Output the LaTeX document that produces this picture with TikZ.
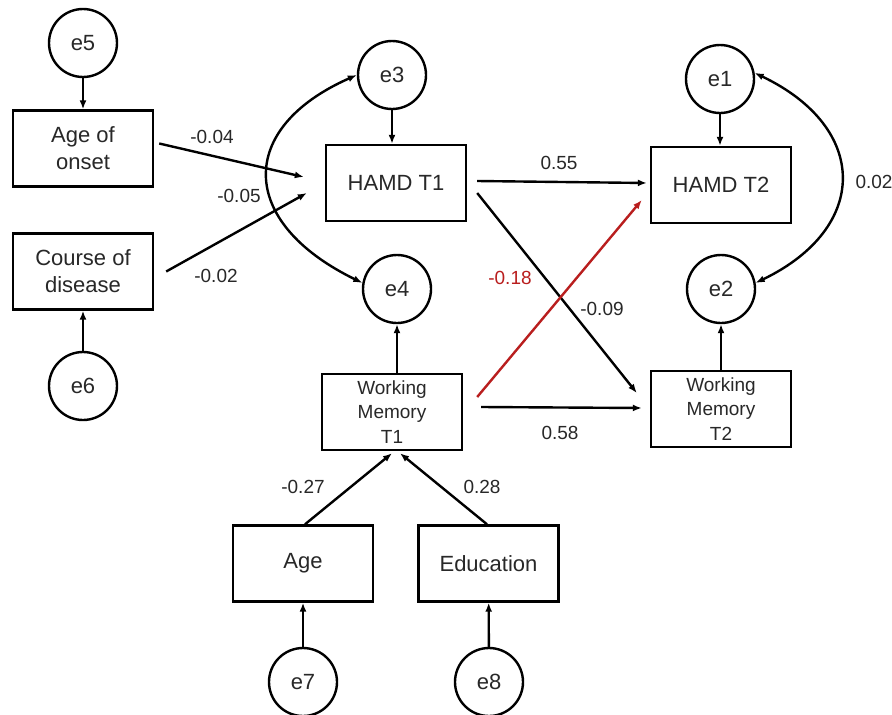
\documentclass[tikz,border=0pt]{standalone}
\usepackage{fontspec}
\setmainfont{Liberation Sans}
\usetikzlibrary{arrows.meta,calc}
\definecolor{txt}{RGB}{40,40,40}
\definecolor{redp}{RGB}{185,30,30}
\begin{document}
\begin{tikzpicture}[x=1pt,y=-1pt,
 box/.style={draw,line width=2.4pt,minimum width=140pt,minimum height=76pt,inner sep=0pt,align=center,text=txt,font=\fontsize{22}{27}\selectfont},
 wmbox/.style={box,font=\fontsize{19}{24.5}\selectfont},
 err/.style={draw,circle,line width=2.4pt,minimum size=68pt,inner sep=0pt,text=txt,font=\fontsize{22}{26}\selectfont},
 arr/.style={line width=2.4pt,-{Latex[length=9pt,width=7pt]}},
 dbl/.style={line width=2.4pt,{Latex[length=9pt,width=7pt]}-{Latex[length=9pt,width=7pt]}},
 lbl/.style={text=txt,font=\fontsize{19}{22}\selectfont,inner sep=0pt},
]
\fill[white] (0,0) rectangle (892,715);
\useasboundingbox (0,0) rectangle (892,715);

% boxes
\node[box] (aoo) at (83,148.5) {Age of\\onset};
\node[box] (cod) at (83,271.5) {Course of\\disease};
\node[box] (hamd1) at (396,183) {HAMD T1};
\node[box] (hamd2) at (721,185) {HAMD T2};
\node[wmbox] (wm1) at (392,412) {Working\\Memory\\T1};
\node[wmbox] (wm2) at (721,409) {Working\\Memory\\T2};
\node[box] (age) at (303,563.5) {Age};
\node[box] (edu) at (488.5,563.5) {Education};

% error circles
\node[err] (e5) at (83,43) {e5};
\node[err] (e6) at (83,386) {e6};
\node[err] (e3) at (392,75) {e3};
\node[err] (e4) at (397,289) {e4};
\node[err] (e1) at (720,79) {e1};
\node[err] (e2) at (721,289) {e2};
\node[err] (e7) at (303,682) {e7};
\node[err] (e8) at (489,682) {e8};

% error arrows
\draw[arr] (e5) -- (aoo);
\draw[arr] (e6) -- (cod);
\draw[arr] (e3) -- (e3 |- hamd1.north);
\draw[arr] (wm1.north -| e4) -- (e4);
\draw[arr] (e1) -- (e1 |- hamd2.north);
\draw[arr] (wm2) -- (e2);
\draw[arr] (e7) -- (age);
\draw[arr] (e8) -- (edu);

% covariances
\draw[dbl] (e3.180) .. controls +(-120,53) and +(-125,-61) .. (e4.170);
\draw[dbl] (e1.10) .. controls +(115,55) and +(114,-55) .. (e2.10);

% paths
\draw[arr] ($(aoo.east)+(5,-5)$) -- ($(hamd1.west)+(-21,-6)$);
\draw[arr] ($(cod.east)+(12,0)$) -- ($(hamd1.west)+(-18,10)$);
\draw[arr] ($(hamd1.east)+(10,-2)$) -- ($(hamd2.west)+(-3,-2)$);
\draw[arr] ($(hamd1.east)+(10,10)$) -- ($(wm2.west)+(-13,-16)$);
\draw[arr,redp] ($(wm1.east)+(14,-15)$) -- ($(hamd2.west)+(-8,15)$);
\draw[arr] ($(wm1.east)+(18,-5)$) -- ($(wm2.west)+(-8,-1)$);
\draw[arr] ($(age.north)+(2,0)$) -- ($(wm1.south)+(0,2)$);
\draw[arr] ($(edu.north)+(-1.5,0)$) -- ($(wm1.south)+(8,2)$);

% labels
\node[lbl] (l1) at (212,137) {-0.04};
\node[lbl] (l2) at (239,196) {-0.05};
\node[lbl] (l3) at (216,276) {-0.02};
\node[lbl] (l4) at (559,163) {0.55};
\node[lbl,text=redp] (l5) at (510,278) {-0.18};
\node[lbl] (l6) at (602,309) {-0.09};
\node[lbl] (l7) at (560,433) {0.58};
\node[lbl] (l8) at (303,487) {-0.27};
\node[lbl] (l9) at (482,487) {0.28};
\node[lbl] (l10) at (874,182) {0.02};
\end{tikzpicture}
\end{document}
